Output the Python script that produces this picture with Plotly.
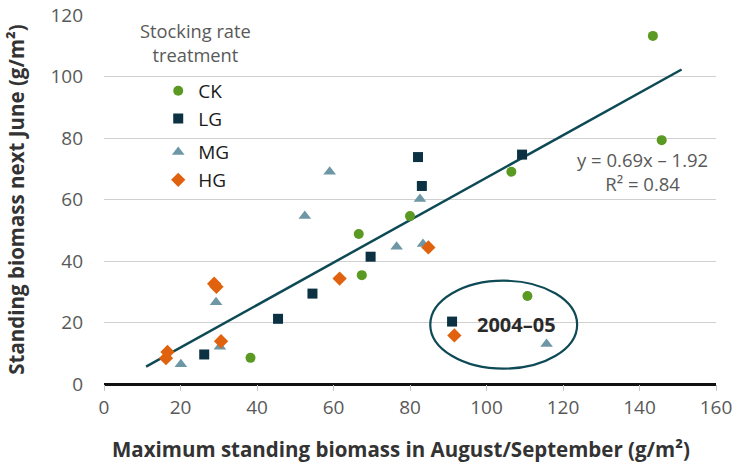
import plotly.graph_objects as go

# Maximum standing biomass in Aug/Sep (x) vs standing biomass next June (y), g/m2
ck_x = [143.5, 145.8, 106.5, 80.0, 66.6, 67.4, 110.7, 38.3]
ck_y = [113.2, 79.3, 69.0, 54.6, 48.8, 35.4, 28.6, 8.5]

lg_x = [26.2, 45.5, 54.5, 69.7, 82.1, 83.1, 109.3, 91.0]
lg_y = [9.6, 21.2, 29.4, 41.4, 73.8, 64.4, 74.6, 20.3]

mg_x = [20.1, 29.3, 30.3, 52.5, 59.0, 76.5, 82.6, 83.4, 115.7]
mg_y = [6.4, 26.6, 12.1, 54.6, 69.0, 44.6, 60.2, 45.5, 13.0]

hg_x = [16.6, 16.2, 28.8, 29.4, 30.6, 61.6, 84.8, 91.6]
hg_y = [10.4, 8.4, 32.6, 31.6, 13.9, 34.3, 44.4, 15.8]

# Linear fit reported on the chart
slope, intercept = 0.69, -1.92
fit_x = [11.0, 151.0]
fit_y = [slope * v + intercept for v in fit_x]

x_ticks = [0, 20, 40, 60, 80, 100, 120, 140, 160]
y_ticks = [0, 20, 40, 60, 80, 100, 120]

GREEN = "#5b9a22"
NAVY = "#0b3142"
STEEL = "#6d97a5"
ORANGE = "#e0620f"
TEAL = "#0d4a55"
GRAY = "#595959"
FONT = "Open Sans"

fig = go.Figure()

fig.add_trace(go.Scatter(
    x=fit_x, y=fit_y, mode="lines", showlegend=False,
    line=dict(color=TEAL, width=2.5), hoverinfo="skip"))

series = [
    ("CK", ck_x, ck_y, "circle", GREEN, 10, "g1"),
    ("LG", lg_x, lg_y, "square", NAVY, 10, "g1"),
    ("MG", mg_x, mg_y, "triangle-up", STEEL, 11, "g2"),
    ("HG", hg_x, hg_y, "diamond", ORANGE, 11, "g2"),
]
for name, xs, ys, sym, col, size, grp in series:
    fig.add_trace(go.Scatter(
        x=xs, y=ys, mode="markers", name=name, legendgroup=grp,
        marker=dict(symbol=sym, color=col, size=size, line=dict(width=0))))

# Ellipse highlighting the 2004-05 season
fig.add_shape(type="circle", xref="x", yref="y",
              x0=85.3, x1=123.7, y0=5.0, y1=33.6,
              line=dict(color=TEAL, width=2.2))

fig.add_annotation(x=107.8, y=19.5, xref="x", yref="y", text="<b>2004–05</b>",
                   showarrow=False, font=dict(family=FONT, size=20, color="#2a2a2a"))

# Regression equation and coefficient of determination
fig.add_annotation(x=0.88, y=69.2, xref="paper", yref="y", xanchor="center",
                   yanchor="middle", align="center",
                   text="y = 0.69x – 1.92<br>R² = 0.84", showarrow=False,
                   font=dict(family=FONT, size=18.5, color=GRAY))

fig.add_annotation(x=0.1487, y=0.9255, xref="paper", yref="paper", xanchor="center",
                   yanchor="middle", text="Stocking rate<br>treatment", showarrow=False,
                   font=dict(family=FONT, size=18.3, color=GRAY))

# x-axis title
fig.add_annotation(x=0.486, y=-0.176, xref="paper", yref="paper", xanchor="center",
                   yanchor="middle", showarrow=False,
                   text="<b>Maximum standing biomass in August/September (g/m²)</b>",
                   font=dict(family=FONT, size=20.5, color="#333333"))

fig.update_layout(
    width=735, height=468,
    margin=dict(l=104, r=19, t=15, b=84, autoexpand=False),
    plot_bgcolor="white", paper_bgcolor="white",
    font=dict(family=FONT, color=GRAY),
    legend=dict(x=0.0886, y=0.846, xanchor="left", yanchor="top",
                bgcolor="rgba(0,0,0,0)", tracegroupgap=6,
                font=dict(family=FONT, size=19, color="#1a1a1a"),
                itemwidth=30),
    xaxis=dict(range=[0, 160], tickvals=x_ticks, showgrid=False,
               ticks="outside", ticklen=6, tickcolor="#c8c8c8",
               showline=False, zeroline=False, automargin=False,
               tickfont=dict(family=FONT, size=19, color=GRAY)),
    yaxis=dict(range=[0, 120], tickvals=y_ticks, showgrid=True,
               gridcolor="#d0d0d0", gridwidth=1.2, showline=False,
               zeroline=True, zerolinecolor="#111111", zerolinewidth=3,
               ticks="", automargin=False, ticklabelstandoff=20,
               tickfont=dict(family=FONT, size=19, color=GRAY),
               title=dict(text="<b>Standing biomass next June (g/m²)</b>",
                          font=dict(family=FONT, size=20.5, color="#333333"), standoff=20)),
)

fig.write_html("out.html")
